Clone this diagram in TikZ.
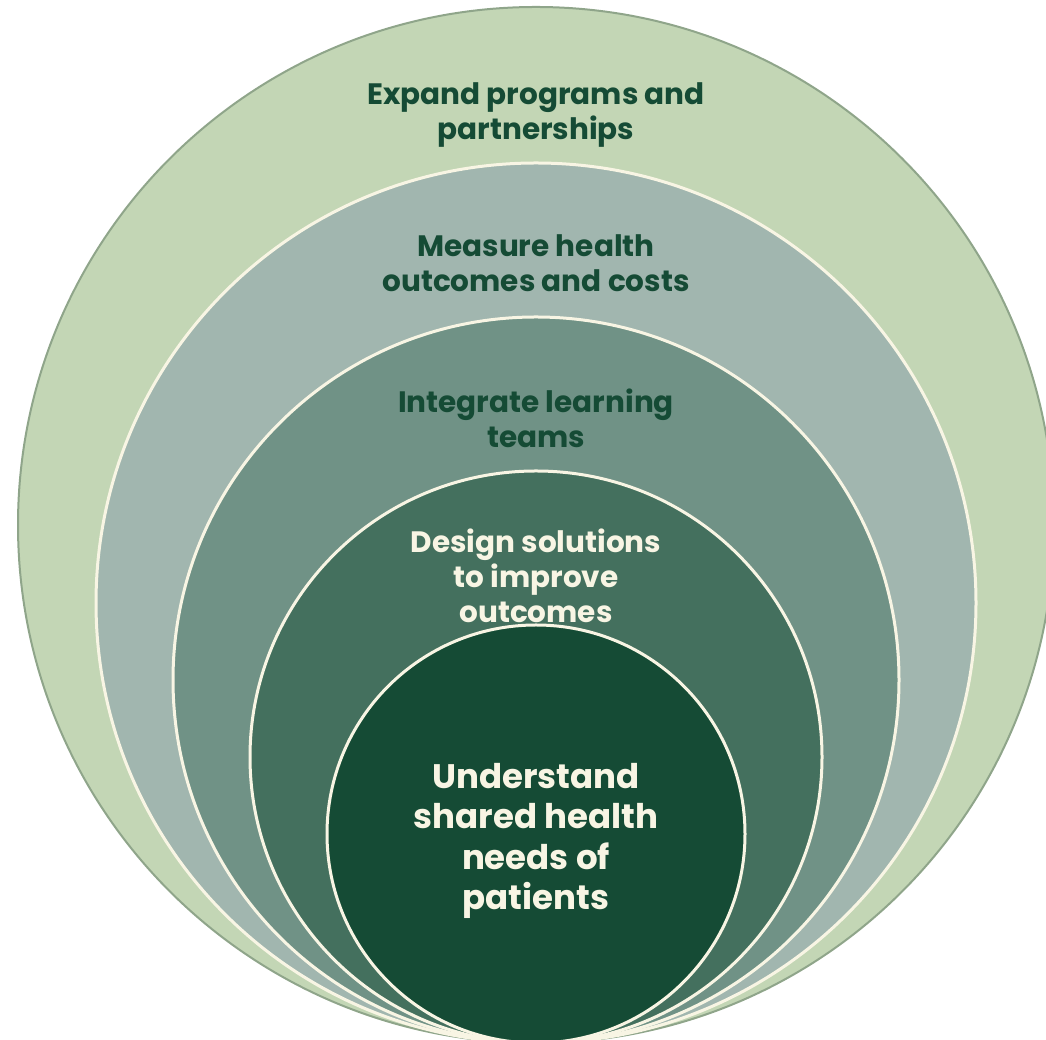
\documentclass[tikz,border=0pt]{standalone}
\usepackage{fontspec}
\setmainfont{Poppins}
\definecolor{ringA}{HTML}{C3D6B5}
\definecolor{ringB}{HTML}{A1B6AF}
\definecolor{ringC}{HTML}{709286}
\definecolor{ringD}{HTML}{44705E}
\definecolor{ringE}{HTML}{154B35}
\definecolor{outeredge}{HTML}{8FA58A}
\definecolor{cream}{HTML}{F8F5E4}
\definecolor{darktext}{HTML}{154B35}
\begin{document}
\begin{tikzpicture}[x=1pt,y=1pt,
  ring/.style={circle, inner sep=0pt, draw=cream, line width=3pt},
  lbl/.style={align=center, inner sep=0pt, font=\fontsize{29.5}{35}\selectfont\bfseries},
  biglbl/.style={align=center, inner sep=0pt, font=\fontsize{34}{40.5}\selectfont\bfseries},
]
\useasboundingbox (0,0) rectangle (1046,1040);
\clip (0,0) rectangle (1046,1040);

% nested rings, all touching at the bottom
\node[ring, draw=outeredge, line width=2pt, fill=ringA, minimum size=1036pt] (r1) at (536,515) {};
\node[ring, fill=ringB, minimum size=880pt] (r2) at (536,437) {};
\node[ring, fill=ringC, minimum size=726pt] (r3) at (536,360) {};
\node[ring, fill=ringD, minimum size=572pt] (r4) at (536,283) {};
\node[ring, fill=ringE, minimum size=418pt] (r5) at (536,206) {};

% ring labels
\node[lbl, text=darktext] (t1) at (536,925) {Expand programs and\\partnerships};
\node[lbl, text=darktext] (t2) at (536,777) {Measure health\\outcomes and costs};
\node[lbl, text=darktext] (t3) at (536,622) {Integrate learning\\teams};
\node[lbl, text=cream] (t4) at (536,464) {Design solutions\\to improve\\outcomes};
\node[biglbl, text=cream] (t5) at (536,199) {Understand\\shared health\\needs of\\patients};
\end{tikzpicture}
\end{document}
